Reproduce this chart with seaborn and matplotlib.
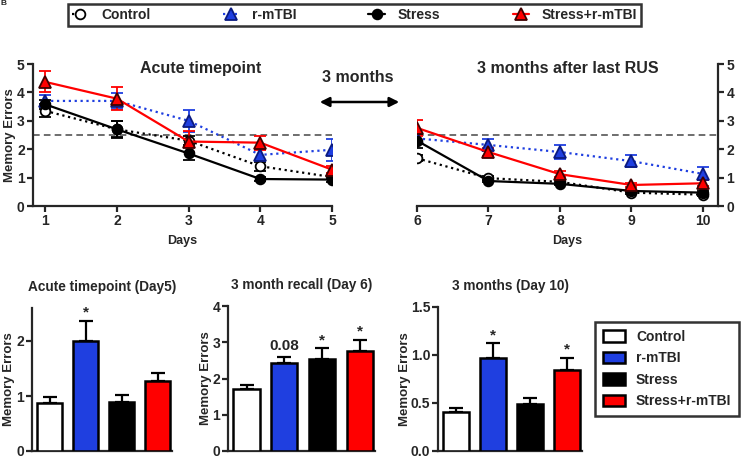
import numpy as np
import pandas as pd
import matplotlib
matplotlib.use("Agg")
import matplotlib.pyplot as plt
import seaborn as sns
from matplotlib.lines import Line2D
from matplotlib.patches import Patch

# ---------------- data ----------------
groups = ["Control", "r-mTBI", "Stress", "Stress+r-mTBI"]
days_acute = [1, 2, 3, 4, 5]
days_late = [6, 7, 8, 9, 10]

control_acute = [3.35, 2.70, 2.30, 1.40, 1.02]
control_acute_err = [0.23, 0.28, 0.15, 0.15, 0.08]
rmtbi_acute = [3.70, 3.70, 3.00, 1.80, 1.98]
rmtbi_acute_err = [0.22, 0.28, 0.38, 0.22, 0.38]
stress_acute = [3.58, 2.70, 1.85, 0.95, 0.93]
stress_acute_err = [0.15, 0.30, 0.23, 0.08, 0.08]
combo_acute = [4.37, 3.78, 2.27, 2.23, 1.28]
combo_acute_err = [0.37, 0.40, 0.38, 0.25, 0.12]

control_late = [1.68, 0.98, 0.85, 0.47, 0.40]
control_late_err = [0.10, 0.08, 0.06, 0.05, 0.05]
rmtbi_late = [2.38, 2.15, 1.90, 1.58, 1.13]
rmtbi_late_err = [0.20, 0.22, 0.25, 0.22, 0.23]
stress_late = [2.30, 0.88, 0.78, 0.53, 0.47]
stress_late_err = [0.25, 0.05, 0.05, 0.05, 0.05]
combo_late = [2.75, 1.90, 1.12, 0.74, 0.80]
combo_late_err = [0.28, 0.15, 0.10, 0.08, 0.10]

bar_day5 = [0.88, 2.00, 0.89, 1.28]
bar_day5_err = [0.11, 0.37, 0.13, 0.13]
bar_day6 = [1.70, 2.42, 2.55, 2.76]
bar_day6_err = [0.12, 0.17, 0.28, 0.30]
bar_day10 = [0.41, 0.97, 0.49, 0.84]
bar_day10_err = [0.04, 0.15, 0.06, 0.13]

sig_day5 = ["", "*", "", ""]
sig_day6 = ["", "0.08", "*", "*"]
sig_day10 = ["", "*", "", "*"]

threshold = 2.5

# ---------------- style ----------------
sns.set_style("ticks")
plt.rcParams["font.family"] = ["Liberation Sans", "DejaVu Sans"]
plt.rcParams["font.weight"] = "bold"
plt.rcParams["axes.labelweight"] = "bold"
plt.rcParams["axes.linewidth"] = 1.6
plt.rcParams["xtick.major.width"] = 1.6
plt.rcParams["ytick.major.width"] = 1.6
plt.rcParams["xtick.major.size"] = 4
plt.rcParams["ytick.major.size"] = 4
plt.rcParams["xtick.labelsize"] = 10
plt.rcParams["ytick.labelsize"] = 10

BLUE = "#1f3fe0"
RED = "#ff0000"
colors = ["white", BLUE, "black", RED]

W, H = 741, 458
fig = plt.figure(figsize=(W / 100, H / 100), dpi=100)


def ax_px(x0, x1, ytop, ybot):
    return fig.add_axes([x0 / W, 1 - ybot / H, (x1 - x0) / W, (ybot - ytop) / H])


series_style = {
    "Control": dict(color="black", ls=":", marker="o", mfc="white", mec="black", ms=7),
    "r-mTBI": dict(color=BLUE, ls=":", marker="^", mfc=BLUE, mec="#0a1a80", ms=9),
    "Stress": dict(color="black", ls="-", marker="o", mfc="black", mec="black", ms=7),
    "Stress+r-mTBI": dict(color=RED, ls="-", marker="^", mfc=RED, mec="#400000", ms=9),
}

acute = {
    "Control": (control_acute, control_acute_err),
    "r-mTBI": (rmtbi_acute, rmtbi_acute_err),
    "Stress": (stress_acute, stress_acute_err),
    "Stress+r-mTBI": (combo_acute, combo_acute_err),
}
late = {
    "Control": (control_late, control_late_err),
    "r-mTBI": (rmtbi_late, rmtbi_late_err),
    "Stress": (stress_late, stress_late_err),
    "Stress+r-mTBI": (combo_late, combo_late_err),
}


def draw_lines(ax, days, data):
    handles = []
    for g in groups:
        vals, errs = data[g]
        st = series_style[g]
        ax.errorbar(days, vals, yerr=errs, fmt="none", ecolor=st["color"],
                    elinewidth=1.3, capsize=4, capthick=1.3, zorder=2)
        sns.lineplot(x=days, y=vals, ax=ax, color=st["color"], linestyle=st["ls"],
                     linewidth=1.6, marker=st["marker"], markersize=st["ms"],
                     markerfacecolor=st["mfc"], markeredgecolor=st["mec"],
                     markeredgewidth=1.3, zorder=3)
        handles.append(Line2D([], [], color=st["color"], ls=st["ls"], lw=1.6,
                              marker=st["marker"], ms=st["ms"], mfc=st["mfc"],
                              mec=st["mec"], mew=1.3))
    ax.axhline(threshold, color="#555555", ls=(0, (4, 2.5)), lw=1.2, zorder=1)
    return handles


# ---------------- line panels ----------------
axL = ax_px(33, 332, 64, 206)
handles = draw_lines(axL, days_acute, acute)
axL.set_xlim(0.83, 5.0)
axL.set_ylim(0, 5)
axL.set_xticks(days_acute)
axL.set_yticks(range(6))
axL.set_xlabel("Days", fontsize=9, labelpad=5)
axL.set_ylabel("Memory Errors", fontsize=9.5)
axL.yaxis.set_label_coords(-0.058, 0.5)
sns.despine(ax=axL)
axL.text(0.56, 0.965, "Acute timepoint", transform=axL.transAxes, ha="center",
         va="center", fontsize=11.5, fontweight="bold")

axR = ax_px(417, 718, 64, 206)
draw_lines(axR, days_late, late)
axR.set_xlim(6.0, 10.21)
axR.set_ylim(0, 5)
axR.set_xticks(days_late)
axR.set_yticks(range(6))
axR.yaxis.tick_right()
axR.set_xlabel("Days", fontsize=9, labelpad=5)
axR.set_ylabel("")
axR.spines["top"].set_visible(False)
axR.spines["left"].set_visible(False)
axR.text(0.5, 0.965, "3 months after last RUS", transform=axR.transAxes,
         ha="center", va="center", fontsize=11.5, fontweight="bold")

for a in (axL, axR):
    for lab in a.get_xticklabels() + a.get_yticklabels():
        lab.set_fontweight("bold")
    a.tick_params(pad=2)

# "3 months" arrow
fig.text(358 / W, 1 - 77 / H, "3 months", ha="center", va="center",
         fontsize=11.5, fontweight="bold")
fig.add_artist(matplotlib.patches.FancyArrowPatch(
    (317 / W, 1 - 102 / H), (402 / W, 1 - 102 / H), transform=fig.transFigure,
    arrowstyle="<|-|>", mutation_scale=14, lw=1.8, color="black"))

# top legend
leg = fig.legend(handles, groups, loc="center", ncol=4,
                 bbox_to_anchor=(354.5 / W, 1 - 15 / H), frameon=True,
                 fancybox=False, edgecolor="black", handlelength=1.2,
                 handletextpad=0.9, columnspacing=5.2, borderpad=0.3,
                 prop=dict(size=10, weight="bold"))
leg.get_frame().set_linewidth(1.8)

# tiny panel letter at top-left corner
fig.text(0.001, 0.999, "B", ha="left", va="top", fontsize=6, fontweight="bold")

# ---------------- bar panels ----------------
bar_specs = [
    (32, 172, 308, "Acute timepoint (Day5)", bar_day5, bar_day5_err, sig_day5,
     (0, 2.6), [0, 1, 2], ["0", "1", "2"], -0.118),
    (228, 375, 306, "3 month recall (Day 6)", bar_day6, bar_day6_err, sig_day6,
     (0, 4), [0, 1, 2, 3, 4], ["0", "1", "2", "3", "4"], -0.107),
    (438, 582, 307, "3 months (Day 10)", bar_day10, bar_day10_err, sig_day10,
     (0, 1.5), [0, 0.5, 1.0, 1.5], ["0.0", "0.5", "1.0", "1.5"], -0.19),
]

for (x0, x1, ytop, title, vals, errs, sigs, ylim, yt, ytl, labx) in bar_specs:
    ax = ax_px(x0, x1, ytop, 451)
    df = pd.DataFrame({"group": groups, "value": vals})
    sns.barplot(data=df, x="group", y="value", hue="group", palette=colors,
                order=groups, hue_order=groups, legend=False, width=0.69,
                saturation=1, edgecolor="black", linewidth=1.8, ax=ax, zorder=3)
    xs = np.arange(len(groups))
    ax.errorbar(xs, vals, yerr=[np.zeros(len(errs)), errs], fmt="none",
                ecolor="black", elinewidth=1.6, capsize=5, capthick=1.6, zorder=2)
    for xi, v, e, s in zip(xs, vals, errs, sigs):
        if s:
            ax.annotate(s, (xi, v + e), xytext=(0, 3 if s != "*" else 1),
                        textcoords="offset points", ha="center", va="bottom",
                        fontsize=11, fontweight="bold")
    ax.set_xlim(-0.49, 3.40)
    ax.set_ylim(*ylim)
    ax.set_yticks(yt)
    ax.set_yticklabels(ytl, fontweight="bold")
    ax.set_xticks([])
    ax.set_xlabel("")
    ax.set_ylabel("Memory Errors", fontsize=9.5)
    ax.yaxis.set_label_coords(labx, 0.5)
    ax.tick_params(axis="y", pad=1.5)
    sns.despine(ax=ax)
    ax.set_title(title, fontsize=9.8, fontweight="bold", pad=12)

# bottom-right legend
patches = [Patch(facecolor=c, edgecolor="black", linewidth=1.8) for c in colors]
leg2 = fig.legend(patches, groups, loc="center", bbox_to_anchor=(667 / W, 1 - 369 / H),
                  frameon=True, fancybox=False, edgecolor="black", handlelength=1.6,
                  handleheight=0.9, handletextpad=0.8, labelspacing=0.55,
                  borderpad=0.55, prop=dict(size=10, weight="bold"))
leg2.get_frame().set_linewidth(1.8)

fig.savefig("out.png", dpi=100)
